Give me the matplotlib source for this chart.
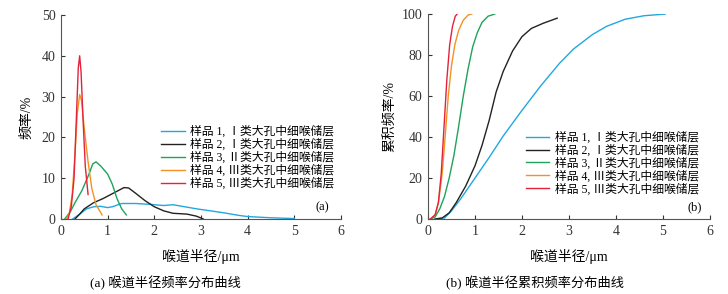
import matplotlib.pyplot as plt

plt.rcParams['font.family'] = ['Liberation Serif', 'Noto Sans CJK SC']
plt.rcParams['axes.unicode_minus'] = False

labels = ['样品 1, Ⅰ类大孔中细喉储层', '样品 2, Ⅰ类大孔中细喉储层', '样品 3, Ⅱ类大孔中细喉储层',
          '样品 4, Ⅲ类大孔中细喉储层', '样品 5, Ⅲ类大孔中细喉储层']
colors = ['#22a7e0', '#222222', '#1ea35a', '#f39222', '#e4223c']

# (a) frequency curves
f1_x = [0.25, 0.4, 0.55, 0.7, 0.85, 1.0, 1.1, 1.3, 1.6, 1.9, 2.2, 2.4, 2.6, 2.9, 3.2, 3.5, 3.8, 4.0, 4.5, 5.0]
f1_y = [0, 1.2, 2.5, 3.0, 3.1, 2.8, 3.0, 3.8, 3.8, 3.6, 3.3, 3.5, 3.1, 2.5, 2.0, 1.5, 0.9, 0.6, 0.3, 0.1]
f2_x = [0.3, 0.4, 0.5, 0.7, 0.9, 1.0, 1.2, 1.35, 1.45, 1.6, 1.8, 2.0, 2.2, 2.4, 2.7, 2.9, 3.05]
f2_y = [0, 1.2, 2.5, 4.0, 5.0, 5.6, 6.8, 7.7, 7.6, 6.3, 4.5, 3.0, 2.0, 1.4, 1.2, 0.7, 0]
f3_x = [0.08, 0.2, 0.3, 0.45, 0.6, 0.68, 0.75, 0.85, 1.0, 1.1, 1.2, 1.3, 1.4]
f3_y = [0, 1.8, 4.0, 7.0, 11.0, 13.5, 14.0, 13.0, 11.0, 8.5, 5.0, 2.5, 1.0]
f4_x = [0.12, 0.18, 0.24, 0.3, 0.35, 0.4, 0.44, 0.5, 0.58, 0.66, 0.75, 0.88]
f4_y = [0, 1.5, 6.0, 16.0, 26.0, 30.5, 29.0, 22.0, 14.0, 7.5, 3.5, 1.0]
f5_x = [0.15, 0.22, 0.28, 0.33, 0.37, 0.4, 0.43, 0.47, 0.52, 0.58]
f5_y = [0, 3.0, 10.0, 25.0, 37.0, 40.0, 36.0, 25.0, 13.0, 6.0]

# (b) cumulative curves
c1_x = [0.15, 0.35, 0.5, 0.7, 1.0, 1.3, 1.6, 2.0, 2.4, 2.8, 3.1, 3.5, 3.8, 4.2, 4.6, 5.05]
c1_y = [0, 0.5, 4.0, 10.0, 20.0, 30.0, 40.5, 53.0, 65.0, 76.0, 83.0, 90.0, 94.0, 97.5, 99.2, 100]
c2_x = [0.15, 0.3, 0.45, 0.6, 0.8, 1.0, 1.15, 1.3, 1.45, 1.6, 1.8, 2.0, 2.2, 2.45, 2.75]
c2_y = [0, 0.5, 3.0, 8.0, 16.0, 26.0, 36.0, 48.0, 62.0, 72.0, 82.0, 89.0, 93.0, 95.5, 98.0]
c3_x = [0.05, 0.15, 0.25, 0.35, 0.45, 0.55, 0.65, 0.75, 0.85, 0.95, 1.05, 1.15, 1.28, 1.42]
c3_y = [0, 1.0, 5.0, 11.0, 20.0, 31.0, 45.0, 60.0, 73.0, 84.0, 91.0, 96.0, 99.0, 100]
c4_x = [0.05, 0.15, 0.22, 0.3, 0.37, 0.43, 0.5, 0.57, 0.65, 0.75, 0.85, 0.93]
c4_y = [0, 2.0, 8.0, 22.0, 42.0, 60.0, 75.0, 85.0, 92.0, 97.0, 99.5, 100]
c5_x = [0.05, 0.15, 0.22, 0.28, 0.34, 0.4, 0.46, 0.52, 0.58, 0.62]
c5_y = [0, 2.0, 8.0, 22.0, 45.0, 68.0, 85.0, 94.0, 99.0, 100]

freq = [(f1_x, f1_y), (f2_x, f2_y), (f3_x, f3_y), (f4_x, f4_y), (f5_x, f5_y)]
cum = [(c1_x, c1_y), (c2_x, c2_y), (c3_x, c3_y), (c4_x, c4_y), (c5_x, c5_y)]

fig = plt.figure(figsize=(7.28, 2.94), dpi=100)
ax1 = fig.add_axes([0.0838, 0.2551, 0.3846, 0.694])
ax2 = fig.add_axes([0.588, 0.2551, 0.387, 0.697])

for (x, y), c, lab in zip(freq, colors, labels):
    ax1.plot(x, y, color=c, lw=1.0, label=lab)
for (x, y), c, lab in zip(cum, colors, labels):
    ax2.plot(x, y, color=c, lw=1.0, label=lab)

for ax in (ax1, ax2):
    ax.spines['top'].set_visible(False)
    ax.spines['right'].set_visible(False)
    ax.spines['left'].set_color('#555555')
    ax.spines['bottom'].set_color('#555555')
    ax.set_xlim(0, 6)
    ax.set_xticks(range(7))
    ax.tick_params(direction='in', length=3, labelsize=10, colors='#333333', pad=4)
    ax.set_xlabel('喉道半径/μm', fontsize=10, labelpad=8)

ax1.set_ylim(0, 50)
ax1.set_yticks(range(0, 51, 10))
ax1.set_ylabel('频率/%', fontsize=10, labelpad=6)
ax2.set_ylim(0, 100)
ax2.set_yticks(range(0, 101, 20))
ax2.set_ylabel('累积频率/%', fontsize=10, labelpad=4)

ax1.legend(loc='upper left', bbox_to_anchor=(0.34, 0.48), frameon=False, fontsize=8.5,
           handlelength=2.0, handletextpad=0.5, labelspacing=0.05, borderaxespad=0)
ax2.legend(loc='upper left', bbox_to_anchor=(0.33, 0.45), frameon=False, fontsize=8.5,
           handlelength=2.0, handletextpad=0.5, labelspacing=0.05, borderaxespad=0)

ax1.text(5.6, 2.9, '(a)', fontsize=9, ha='center', va='center')
ax2.text(5.68, 5.9, '(b)', fontsize=9, ha='center', va='center')

fig.text(165 / 728, 1 - 283 / 294, '(a) 喉道半径频率分布曲线', fontsize=9.5, ha='center', va='center')
fig.text(535 / 728, 1 - 283 / 294, '(b) 喉道半径累积频率分布曲线', fontsize=9.5, ha='center', va='center')

fig.savefig('out.png', dpi=100)
